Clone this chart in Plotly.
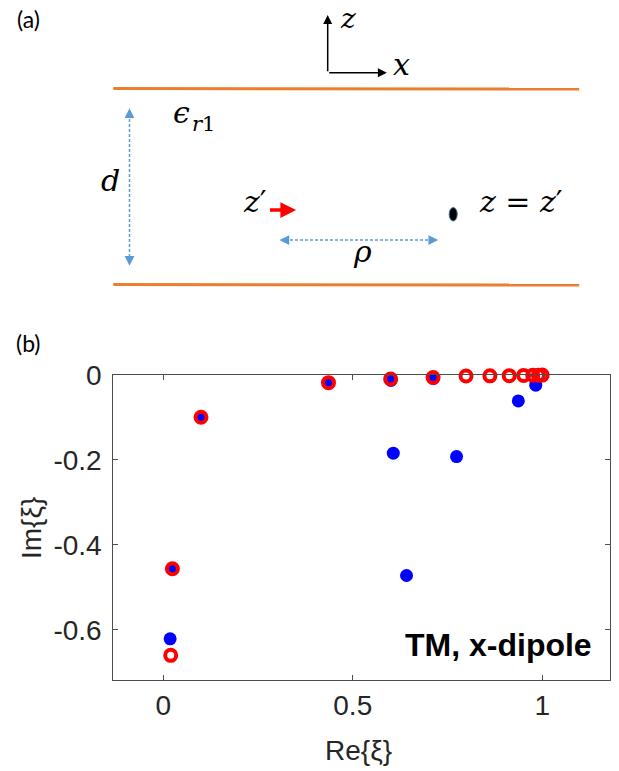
import plotly.graph_objects as go

W, H = 619, 771

# ---------------- data (panel b) ----------------
blue_re = [0.018, 0.024, 0.0995, 0.436, 0.601, 0.713, 0.607, 0.642, 0.774, 0.937, 0.983]
blue_im = [-0.621, -0.456, -0.0996, -0.018, -0.013, -0.008, -0.184, -0.472, -0.192, -0.061, -0.024]

red_re = [0.0195, 0.024, 0.0995, 0.436, 0.600, 0.712, 0.799, 0.862, 0.913, 0.951, 0.975, 0.990, 1.000]
red_im = [-0.660, -0.456, -0.0996, -0.018, -0.0094, -0.006, -0.0024, -0.002, -0.0015, -0.001, -0.0007, -0.0004, -0.0002]

x_tickvals = [0, 0.5, 1]
x_ticktext = ["0", "0.5", "1"]
y_tickvals = [0, -0.2, -0.4, -0.6]
y_ticktext = ["0", "-0.2", "-0.4", "-0.6"]


def px(x):
    return x / W


def py(y):
    return 1 - y / H


fig = go.Figure()
fig.add_trace(go.Scatter(
    x=blue_re, y=blue_im, mode="markers", cliponaxis=False, showlegend=False,
    marker=dict(color="#0000FF", size=13, line=dict(width=0)),
))
fig.add_trace(go.Scatter(
    x=red_re, y=red_im, mode="markers", cliponaxis=False, showlegend=False,
    marker=dict(symbol="circle-open", color="#FF0000", size=11,
                line=dict(width=4, color="#FF0000")),
))

axis_common = dict(
    ticks="inside", ticklen=5, tickcolor="#4d4d4d", tickwidth=1,
    showline=True, linecolor="#4d4d4d", linewidth=1, mirror="ticks",
    showgrid=False, zeroline=False, automargin=False,
    tickfont=dict(family="Liberation Sans", size=28, color="#262626"),
)

fig.update_layout(
    width=W, height=H, margin=dict(l=0, r=0, t=0, b=0),
    paper_bgcolor="white", plot_bgcolor="white", showlegend=False,
    xaxis=dict(domain=[113.3 / W, 610 / W], range=[-0.132, 1.179],
               tickvals=x_tickvals, ticktext=x_ticktext, ticklabelstandoff=0,
               **axis_common),
    yaxis=dict(domain=[1 - 680 / H, 1 - 375 / H], range=[-0.718, 0],
               tickvals=y_tickvals, ticktext=y_ticktext, ticklabelstandoff=5,
               **axis_common),
)

# ---------------- panel (a) schematic ----------------
orange = "#ED7D31"
lblue = "#5B9BD5"
shapes = [
    dict(type="line", xref="paper", yref="paper", x0=px(113.3), y0=py(88.5), x1=px(579.2), y1=py(89),
         line=dict(color=orange, width=3)),
    dict(type="line", xref="paper", yref="paper", x0=px(113.3), y0=py(284.5), x1=px(579.2), y1=py(285),
         line=dict(color=orange, width=3)),
    dict(type="line", xref="paper", yref="paper", x0=px(129.5), y0=py(114), x1=px(129.5), y1=py(260),
         line=dict(color=lblue, width=1.5, dash="3px,2px")),
    dict(type="line", xref="paper", yref="paper", x0=px(285), y0=py(240), x1=px(432), y1=py(240),
         line=dict(color=lblue, width=1.5, dash="3px,2px")),
    dict(type="circle", xref="paper", yref="paper", x0=px(449.2), x1=px(457.2), y0=py(221), y1=py(207.5),
         fillcolor="black", line=dict(color="#41719C", width=1)),
]
fig.update_layout(shapes=shapes)

ann = []


def arrow(tipx, tipy, dx, dy, color, width, size, head=2):
    ann.append(dict(xref="paper", yref="paper", x=px(tipx), y=py(tipy), ax=dx, ay=dy,
                    axref="pixel", ayref="pixel", text="", showarrow=True,
                    arrowhead=head, arrowsize=size, arrowwidth=width, arrowcolor=color,
                    standoff=0, startstandoff=0))


# coordinate axes
arrow(327.7, 15, 0, 57.7, "black", 1.5, 1.2)
arrow(386.9, 72.7, -59.2, 0, "black", 1.5, 1.2)
# blue dashed arrow heads
arrow(129.5, 108.3, 0, 9, lblue, 1.5, 1.3)
arrow(129.5, 265.7, 0, -9, lblue, 1.5, 1.3)
arrow(279.5, 240, 9, 0, lblue, 1.5, 1.3)
arrow(438.2, 240, -9, 0, lblue, 1.5, 1.3)
# red dipole arrow
arrow(296.1, 210, -27.6, 0, "#FF0000", 3.5, 0.9)


def text(x, y, s, size=30, family="DejaVu Serif", color="black", xanchor="center",
         yanchor="middle", angle=0):
    ann.append(dict(xref="paper", yref="paper", x=px(x), y=py(y), text=s, showarrow=False,
                    xanchor=xanchor, yanchor=yanchor, textangle=angle,
                    font=dict(family=family, size=size, color=color)))


text(348.4, 0, "<i>z</i>", size=28, yanchor="top")
text(401.7, 64, "<i>x</i>")
text(181.6, 112, "<i>ϵ</i>")
text(203.5, 124, "<i>r</i>1", size=21)
text(110, 180, "<i>d</i>")
text(255, 202, "<i>z</i>′")
text(520.7, 202, "<i>z</i> = <i>z</i>′")
text(362, 252, "<i>ρ</i>")

text(28.6, 19, "(a)", size=23, family="Lato")
text(28.3, 342.5, "(b)", size=23, family="Lato")

# panel (b) labels
text(594, 645, "<b>TM, x-dipole</b>", size=32, family="Liberation Sans", xanchor="right")
text(358, 750, "Re{ξ}", size=28, family="Liberation Sans", color="#262626")
text(31, 528, "Im{ξ}", size=28, family="Liberation Sans", color="#262626", angle=-90)

fig.update_layout(annotations=ann)

fig.write_html("out.html")
